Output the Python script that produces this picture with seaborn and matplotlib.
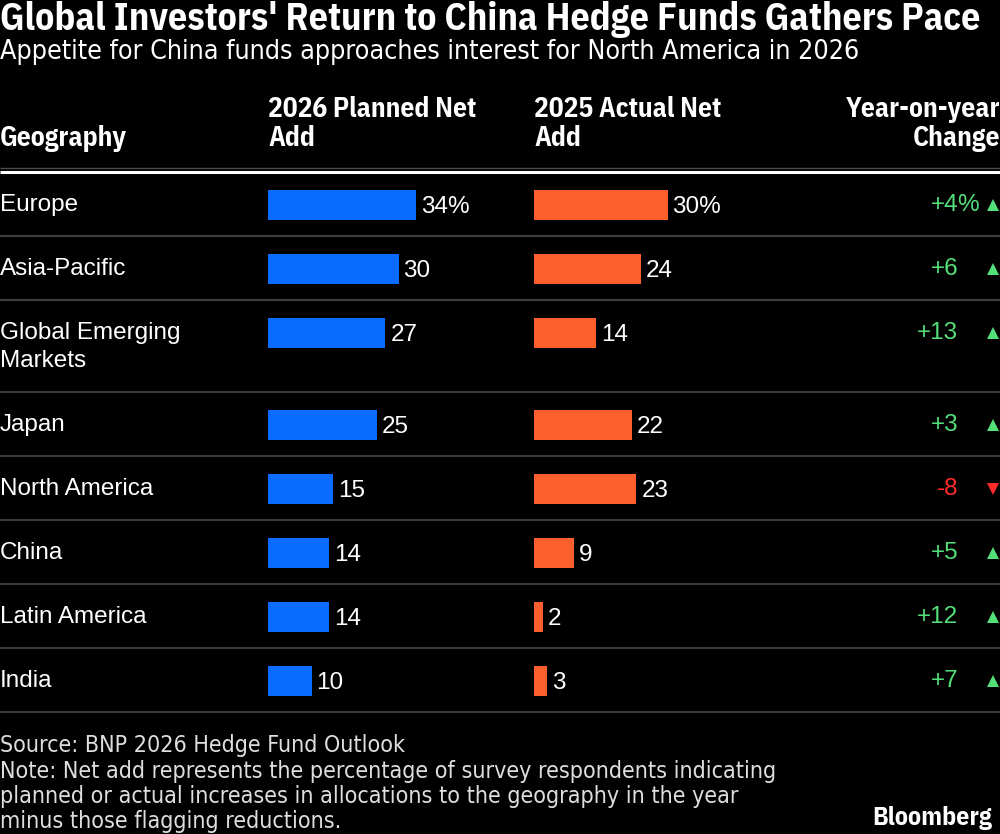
import numpy as np
import pandas as pd
import matplotlib
matplotlib.use("Agg")
import matplotlib.pyplot as plt
import seaborn as sns

# ---------------- data ----------------
geographies = ["Europe", "Asia-Pacific", "Global Emerging\nMarkets", "Japan",
               "North America", "China", "Latin America", "India"]
planned_2026 = [34, 30, 27, 25, 15, 14, 14, 10]
actual_2025 = [30, 24, 14, 22, 23, 9, 2, 3]

title = "Global Investors' Return to China Hedge Funds Gathers Pace"
subtitle = "Appetite for China funds approaches interest for North America in 2026"
col_headers = ["Geography", "2026 Planned Net\nAdd", "2025 Actual Net\nAdd", "Year-on-year\nChange"]
source_lines = ["Source: BNP 2026 Hedge Fund Outlook",
                "Note: Net add represents the percentage of survey respondents indicating",
                "planned or actual increases in allocations to the geography in the year",
                "minus those flagging reductions."]
brand = "Bloomberg"

# ---------------- style ----------------
sns.set_theme(style="dark")
BG = "black"
BLUE = "#0a6cff"
ORANGE = "#fd5f2c"
GREEN = "#55df78"
RED = "#ff2a2a"
GRID = "#3c3c3c"
COND = ["IBM Plex Sans Condensed", "DejaVu Sans"]
SOFT = ["DejaVu Sans"]
REG = ["Liberation Sans", "DejaVu Sans"]
plt.rcParams["font.family"] = REG
plt.rcParams["figure.facecolor"] = BG
plt.rcParams["savefig.facecolor"] = BG

fig = plt.figure(figsize=(10, 8.34), dpi=100)
renderer = fig.canvas.get_renderer()

ov = fig.add_axes([0, 0, 1, 1])
ov.set_xlim(0, 1000)
ov.set_ylim(834, 0)
ov.axis("off")


def fit(t, width):
    bb = t.get_window_extent(renderer=renderer)
    t.set_fontsize(t.get_fontsize() * width / bb.width)
    return t.get_fontsize()


# layout of rows
TOP = 172
SINGLE = 64
EXTRA = 28
nlines = [g.count("\n") + 1 for g in geographies]
heights = [SINGLE + EXTRA * (n - 1) for n in nlines]
bounds = TOP + np.concatenate([[0], np.cumsum(heights)])
centers = bounds[:-1] + 33

# ---------------- title block ----------------
t = ov.text(0, 30, title, color="white", fontweight="bold", family=COND, fontsize=24, va="baseline")
fit(t, 980)
t = ov.text(0, 59, subtitle, color="white", family=SOFT, fontstretch="condensed",
            fontsize=18, va="baseline")
fit(t, 862)

# headers
hdr_size = 17
h0 = ov.text(0, 146, col_headers[0], color="white", fontweight="bold", family=COND,
             fontsize=hdr_size, va="baseline")
hdr_size = fit(h0, 127)
for x, txt in [(268, col_headers[1]), (534, col_headers[2])]:
    l1, l2 = txt.split("\n")
    ov.text(x, 117, l1, color="white", fontweight="bold", family=COND, fontsize=hdr_size, va="baseline")
    ov.text(x, 146, l2, color="white", fontweight="bold", family=COND, fontsize=hdr_size, va="baseline")
l1, l2 = col_headers[3].split("\n")
ov.text(1000, 117, l1, color="white", fontweight="bold", family=COND, fontsize=hdr_size,
        va="baseline", ha="right")
ov.text(1000, 146, l2, color="white", fontweight="bold", family=COND, fontsize=hdr_size,
        va="baseline", ha="right")

# header rules
ov.hlines(168, 0, 1000, color="#4a4a4a", lw=1)
ov.hlines(172, 0, 1000, color="white", lw=2.2)
# row separators
ov.hlines(bounds[1:], 0, 1000, color=GRID, lw=1.6)

# ---------------- rows ----------------
LBL = 17.5
for i, g in enumerate(geographies):
    for k, line in enumerate(g.split("\n")):
        ov.text(0, centers[i] + 6 + k * EXTRA, line, color="white", fontsize=LBL, va="baseline")
    diff = planned_2026[i] - actual_2025[i]
    col = GREEN if diff >= 0 else RED
    s = f"{diff:+d}"
    ov.text(958, centers[i] + 6, s, color=col, fontsize=LBL, va="baseline", ha="right")
    if i == 0:
        ov.text(957, centers[i] + 6, "%", color=col, fontsize=LBL, va="baseline", ha="left")
    ov.plot(993, centers[i], marker="^" if diff >= 0 else "v", color=col, ms=9, mew=0,
            linestyle="none")

# ---------------- bars ----------------
df = pd.DataFrame({"geo": geographies, "ypos": centers,
                   "planned": planned_2026, "actual": actual_2025})
min_gap = np.min(np.diff(centers))
bar_w = 30 / min_gap

for left, col, colr, scale in [(268, "planned", BLUE, 4.35), (534, "actual", ORANGE, 4.45)]:
    axb = fig.add_axes([left / 1000, 0, 0.22, 1])
    sns.barplot(data=df, x=col, y="ypos", orient="y", native_scale=True, color=colr,
                saturation=1, width=bar_w, errorbar=None, linewidth=0, ax=axb)
    axb.set_xlim(0, 220 / scale)
    axb.set_ylim(834, 0)
    axb.axis("off")
    for i, v in enumerate(df[col]):
        lab = f"{v}%" if i == 0 else f"{v}"
        axb.annotate(lab, xy=(v, centers[i] + 8), xytext=(5, 0), textcoords="offset pixels",
                     color="white", fontsize=LBL, va="baseline", ha="left")

# ---------------- footer ----------------
ys = [752, 778, 803, 828]
FOOT = "#dedede"
tn = ov.text(0, ys[1], source_lines[1], color=FOOT, family=SOFT, fontstretch="condensed",
             fontsize=16, va="baseline")
fsz = fit(tn, 779)
for k in [0, 2, 3]:
    ov.text(0, ys[k], source_lines[k], color=FOOT, family=SOFT, fontstretch="condensed",
            fontsize=fsz, va="baseline")
tb = ov.text(992, 825, brand, color="white", fontweight="bold", family=COND, fontsize=15,
             va="baseline", ha="right")
fit(tb, 120)

fig.savefig("out.png", dpi=100, facecolor=BG)
